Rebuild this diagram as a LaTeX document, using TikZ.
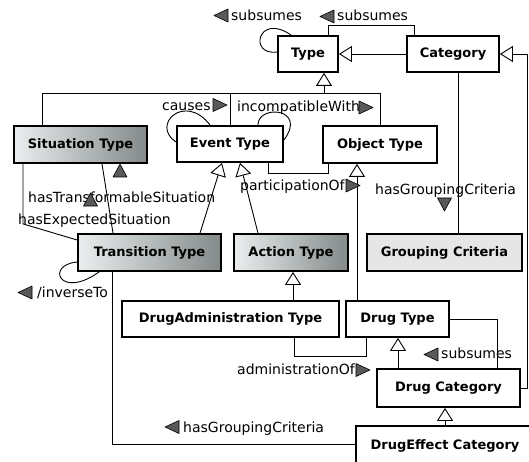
\documentclass[tikz,border=0pt]{standalone}
\usepackage{fontspec}
\setmainfont{DejaVu Sans}
\usetikzlibrary{arrows.meta,calc}
\definecolor{shl}{RGB}{234,238,238}
\definecolor{shr}{RGB}{132,138,138}
\definecolor{gcfill}{RGB}{230,230,230}
\begin{document}
\begin{tikzpicture}[x=1pt,y=-1pt,
  box/.style={draw, line width=1.8pt, fill=white, font=\fontsize{13}{15}\selectfont\bfseries, inner sep=0pt, anchor=center},
  shadedbox/.style={box, left color=shl, right color=shr},
  ln/.style={line width=0.9pt},
  gen/.style={ln, -{Triangle[open, fill=white, length=13pt, width=16pt]}},
  lab/.style={font=\fontsize{14}{16}\selectfont, inner sep=0pt, anchor=base west},
  tri/.style={fill=black!65, draw=black, line width=0.6pt, line join=round},
  trileft/.pic={\filldraw[tri] (0,0) -- (14,-6.5) -- (14,6.5) -- cycle;},
  triright/.pic={\filldraw[tri] (0,0) -- (-14,-6.5) -- (-14,6.5) -- cycle;},
  triup/.pic={\filldraw[tri] (0,0) -- (-7,13) -- (7,13) -- cycle;},
  tridown/.pic={\filldraw[tri] (0,0) -- (-7,-13) -- (7,-13) -- cycle;}
]
\useasboundingbox (0,0) rectangle (529,462);

% nodes
\node[box, minimum width=60pt, minimum height=36pt] (Type) at (308,54) {Type};
\node[box, minimum width=92pt, minimum height=36pt] (Category) at (453,54) {Category};
\node[shadedbox, minimum width=133pt, minimum height=37pt] (SitType) at (80.5,144.5) {Situation Type};
\node[box, minimum width=106pt, minimum height=36pt] (EventType) at (230,144) {Event Type};
\node[box, minimum width=114pt, minimum height=37pt] (ObjType) at (380,144.5) {Object Type};
\node[shadedbox, minimum width=143pt, minimum height=37pt] (TransType) at (149.5,252.5) {Transition Type};
\node[shadedbox, minimum width=114pt, minimum height=37pt] (ActionType) at (291,252.5) {Action Type};
\node[box, fill=gcfill, minimum width=155pt, minimum height=37pt] (GroupCrit) at (444.5,252.5) {Grouping Criteria};
\node[box, minimum width=217pt, minimum height=36pt] (DrugAdmin) at (230.5,319) {DrugAdministration Type};
\node[box, minimum width=103pt, minimum height=36pt] (DrugType) at (397.5,319) {Drug Type};
\node[box, minimum width=143pt, minimum height=38pt] (DrugCat) at (448.5,388) {Drug Category};
\node[box, minimum width=178pt, minimum height=40pt] (DrugEffect) at (445,446) {DrugEffect Category};

\coordinate (bar) at (0,93);
\coordinate (redge) at (527.5,0);

% Type self loop (subsumes)
\draw[ln] ([yshift=2pt]Type.west) .. controls (248,56) and (258,12) .. ([xshift=14pt]Type.north west);
% Category - Type subsumes
\draw[ln] ([xshift=8pt]Category.north west) -- ++(0,-10) -| ([xshift=-10pt]Type.north east);
% Category is-a Type
\draw[gen] (Category.west) -- (Type.east);
% Drug Category is-a Category (right edge)
\draw[gen] (DrugCat.east) -| (redge |- Category.east) -- (Category.east);
% Drug Type - Drug Category subsumes
\draw[ln] (DrugType.east) -| ([xshift=-23pt]DrugCat.north east);

% generalisation tree to Type
\draw[ln] ([xshift=-38.5pt]SitType.north) |- (ObjType.north |- bar) -- (ObjType.north);
\draw[ln] (EventType.north) -- (EventType.north |- bar);
\draw[gen] ([xshift=16pt]Type.south |- bar) -- ([xshift=16pt]Type.south);

% Event Type self loops
\draw[ln] ([yshift=2pt]EventType.west) .. controls (150,125) and (185,92) .. ([xshift=34pt]EventType.north west);
\draw[ln] ([xshift=-26pt]EventType.north east) .. controls (258,104) and (308,108) .. ([yshift=4pt]EventType.east);

% participationOf
\draw[ln] ([xshift=38pt]EventType.south) -- ++(0,11) -| ([xshift=-52pt]ObjType.south);
% Drug Type is-a Object Type
\draw[gen] ([xshift=-40.5pt]DrugType.north) -- ([xshift=-23pt]ObjType.south);
% Category hasGroupingCriteria Grouping Criteria
\draw[ln] ([xshift=5pt]Category.south) -- ([xshift=5pt]Category.south |- GroupCrit.north);

% Transition / Action is-a Event
\draw[gen] ([xshift=50.5pt]TransType.north) -- ([xshift=-8pt]EventType.south);
\draw[gen] ([xshift=-33pt]ActionType.north) -- ([xshift=10pt]EventType.south);

% Situation - Transition
\draw[ln] ([xshift=21.5pt]SitType.south) -- ([xshift=-36.5pt]TransType.north);
\draw[ln] ([xshift=-57.5pt]SitType.south) -- ++(0,60) -- ([yshift=12.5pt]TransType.west);

% Transition self loop
\draw[ln] ([yshift=-9.5pt]TransType.west) .. controls (45,265) and (60,300) .. ([xshift=22pt]TransType.south west);
% Transition hasGroupingCriteria DrugEffect
\draw[ln] ([xshift=-37.5pt]TransType.south) |- ([yshift=2pt]DrugEffect.west);

% DrugAdmin is-a Action
\draw[gen] ([xshift=62.5pt]DrugAdmin.north) -- ([xshift=2pt]ActionType.south);
% administrationOf
\draw[ln] ([xshift=63.5pt]DrugAdmin.south) -- ++(0,19) -| ([xshift=-31.5pt]DrugType.south);
% Drug Category is-a Drug Type
\draw[gen] ([xshift=-50.5pt]DrugCat.north) -- ([xshift=0.5pt]DrugType.south);
% DrugEffect is-a Drug Category
\draw[gen] (DrugEffect.north) -- ([xshift=-3.5pt]DrugCat.south);

% labels
\pic at (214,15.5) {trileft};
\node[lab] (l1) at (231,21) {subsumes};
\pic at (320,16.5) {trileft};
\node[lab] (l2) at (337,21) {subsumes};
\node[lab] (l3) at (162,111) {causes};
\pic at (227,105) {triright};
\node[lab] (l4) at (237,112) {incompatibleWith};
\pic at (373,107.5) {triright};
\node[lab] (l5) at (240,190) {participationOf};
\pic at (360,185.5) {triright};
\node[lab] (l6) at (375,194) {hasGroupingCriteria};
\pic at (444.5,211) {tridown};
\pic at (120,164) {triup};
\node[lab] (l7) at (28,202) {hasTransformableSituation};
\pic at (90.5,193) {triup};
\node[lab] (l8) at (18,224) {hasExpectedSituation};
\pic at (18,292.5) {trileft};
\node[lab] (l9) at (37,297) {/inverseTo};
\pic at (165,427) {trileft};
\node[lab] (l10) at (183,432) {hasGroupingCriteria};
\node[lab] (l11) at (237,374) {administrationOf};
\pic at (370,370) {triright};
\pic at (424,354.5) {trileft};
\node[lab] (l12) at (441,358) {subsumes};
\end{tikzpicture}
\end{document}
